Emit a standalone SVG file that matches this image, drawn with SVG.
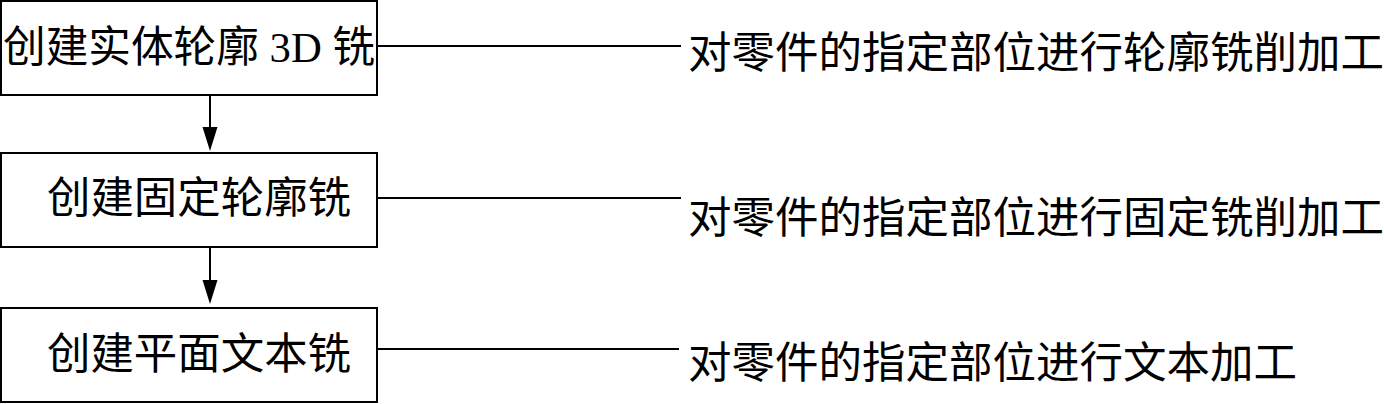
<svg xmlns="http://www.w3.org/2000/svg" width="1384" height="404" viewBox="0 0 1384 404">
<style>
.box{fill:#fff;stroke:#000;stroke-width:2}
.t{font-family:"Liberation Serif","Noto Sans CJK SC",serif;font-size:43px;fill:#000;dominant-baseline:central}
.r{font-family:"Noto Sans CJK SC",sans-serif;font-size:43.5px;fill:#000;dominant-baseline:central}
.ln{stroke:#000;stroke-width:2;fill:none}
</style>
<rect width="1384" height="404" fill="#fff"/>
<g id="node1"><rect class="box" x="1" y="1" width="376" height="94"/><text class="t" x="3" y="47" textLength="372" lengthAdjust="spacingAndGlyphs">创建实体轮廓 3D 铣</text></g>
<g id="node2"><rect class="box" x="1" y="153" width="376" height="94"/><text class="t" x="47" y="198" textLength="304" lengthAdjust="spacingAndGlyphs">创建固定轮廓铣</text></g>
<g id="node3"><rect class="box" x="1" y="308" width="376" height="94"/><text class="t" x="47" y="354" textLength="304" lengthAdjust="spacingAndGlyphs">创建平面文本铣</text></g>
<g id="desc1"><text class="r" x="688" y="49">对零件的指定部位进行轮廓铣削加工</text></g>
<g id="desc2"><text class="r" x="688" y="214">对零件的指定部位进行固定铣削加工</text></g>
<g id="desc3"><text class="r" x="688" y="359">对零件的指定部位进行文本加工</text></g>
<g id="connectors">
<line class="ln" x1="210" y1="96" x2="210" y2="130"/>
<path d="M202.5,127 L217.5,127 L210,151 Z" fill="#000"/>
<line class="ln" x1="210" y1="248" x2="210" y2="282"/>
<path d="M202.5,280 L217.5,280 L210,304 Z" fill="#000"/>
<line class="ln" x1="377" y1="46" x2="681" y2="46"/>
<line class="ln" x1="377" y1="198" x2="681" y2="198"/>
<line class="ln" x1="377" y1="349" x2="679" y2="349"/>
</g>
</svg>
